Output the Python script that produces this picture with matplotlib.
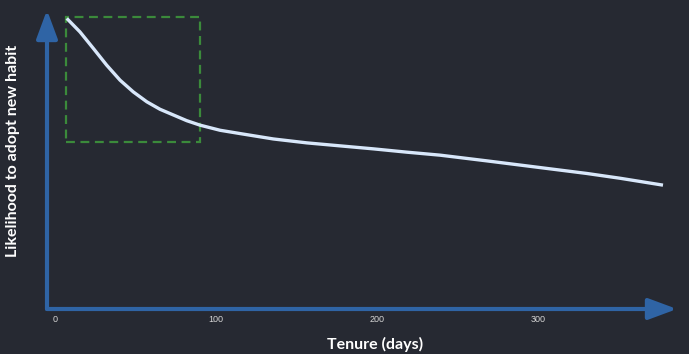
import matplotlib.pyplot as plt
from matplotlib.patches import Rectangle

# habit adoption curve
tenure_days = [7.3, 15.5, 23.8, 32.1, 40.4, 48.6, 57.0, 65.2, 73.5, 81.8,
               90.1, 102.5, 114.9, 135.6, 156.3, 177.0, 197.7, 218.4, 239.1,
               268.1, 288.8, 309.5, 330.2, 350.9, 377.6]
likelihood = [0.969, 0.924, 0.869, 0.813, 0.763, 0.724, 0.691, 0.666, 0.647,
              0.628, 0.613, 0.596, 0.585, 0.567, 0.554, 0.544, 0.534, 0.523,
              0.513, 0.494, 0.480, 0.466, 0.452, 0.436, 0.413]
x_ticks = [0, 100, 200, 300]

# highlighted early window
box_days = (7, 90)
box_likelihood = (0.557, 0.973)

bg = "#262932"
axis_blue = "#2f64a5"
curve_col = "#d8e7fa"
box_green = "#3b8a3b"

W, H = 689, 354
fig = plt.figure(figsize=(W / 100, H / 100), dpi=100, facecolor=bg)
# axes box: left edge / bottom edge sit on the drawn arrows
ax = fig.add_axes([47 / W, (H - 309) / H, 630 / W, 299 / H])
ax.set_facecolor(bg)
ax.set_xlim(-4.97, 386.3)
ax.set_ylim(0, 0.997)

for s in ax.spines.values():
    s.set_visible(False)

# axis arrows
arrow = dict(arrowstyle="-|>,head_length=1.24,head_width=0.46", color=axis_blue,
             lw=3, mutation_scale=14, shrinkA=0, shrinkB=0)
ax.annotate("", xy=(0, 1), xytext=(0, 0), xycoords="axes fraction", arrowprops=arrow)
ax.annotate("", xy=(1, 0), xytext=(0, 0), xycoords="axes fraction", arrowprops=arrow)

ax.plot(tenure_days, likelihood, color=curve_col, lw=2.4, solid_capstyle="butt",
        solid_joinstyle="round", clip_on=False, zorder=3)

ax.add_patch(Rectangle((box_days[0], box_likelihood[0]),
                       box_days[1] - box_days[0],
                       box_likelihood[1] - box_likelihood[0],
                       fill=False, ec=box_green, lw=1.6, ls=(0, (4, 2.5)),
                       zorder=2))

ax.set_xticks(x_ticks)
ax.set_xticklabels([str(t) for t in x_ticks], fontsize=6.5, color="#d5d5d5",
                   family="Liberation Sans")
ax.tick_params(axis="x", length=0, pad=4)
ax.set_yticks([])

ax.set_xlabel("Tenure (days)", fontsize=11.5, color="white", fontweight="bold",
              family="Lato")
ax.xaxis.set_label_coords(0.52, -0.094)
ax.set_ylabel("Likelihood to adopt new habit", fontsize=11.5, color="white",
              fontweight="bold", family="Lato")
ax.yaxis.set_label_coords(-0.043, 0.528)

fig.savefig("out.png", dpi=100, facecolor=bg)
